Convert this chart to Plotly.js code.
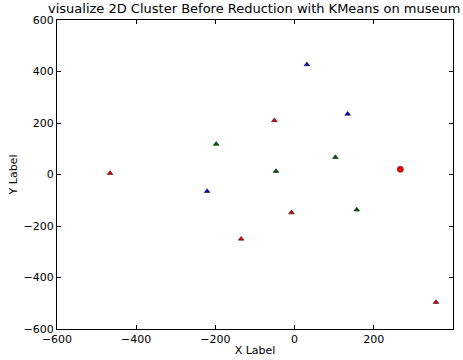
<!DOCTYPE html>
<html>
<head>
<meta charset="utf-8">
<script src="https://cdn.plot.ly/plotly-3.0.1.min.js"></script>
<style>html,body{margin:0;padding:0;background:#fff;}#plot{width:463px;height:360px;}</style>
</head>
<body>
<div id="plot"></div>
<script>
// Data
const redX = [-466, -135, -51, -8, 357];
const redY = [5, -250, 210, -148, -496];
const blueX = [-221, 31, 134];
const blueY = [-65, 427, 235];
const greenX = [-198, -47, 103, 157];
const greenY = [118, 13, 67, -137];
const centerX = [267];
const centerY = [20];
const tickVals = [-600, -400, -200, 0, 200, 400, 600];

const tri = (x, y, c) => ({
  x: x, y: y, type: 'scatter', mode: 'markers',
  marker: {symbol: 'triangle-up', size: 5, color: c, line: {color: '#000', width: 0.5}},
  showlegend: false, hoverinfo: 'none'
});

const data = [
  tri(redX, redY, '#e00000'),
  tri(blueX, blueY, '#0000d0'),
  tri(greenX, greenY, '#006000'),
  {x: centerX, y: centerY, type: 'scatter', mode: 'markers',
   marker: {symbol: 'circle', size: 6, color: '#ff0000', line: {color: '#000', width: 0.5}},
   showlegend: false, hoverinfo: 'none'}
];

const axisCommon = {
  showgrid: false, zeroline: false, showline: true, linecolor: '#000', linewidth: 1,
  mirror: 'ticks', ticks: 'inside', ticklen: 4, tickcolor: '#000', tickwidth: 1,
  tickfont: {family: 'DejaVu Sans', size: 11, color: '#000'}
};

const layout = {
  width: 463, height: 360,
  margin: {l: 57, r: 10, t: 20, b: 31, pad: 0},
  paper_bgcolor: '#fff', plot_bgcolor: '#fff',
  font: {family: 'DejaVu Sans', color: '#000'},
  title: {text: 'visualize 2D Cluster Before Reduction with KMeans on museum',
          font: {family: 'DejaVu Sans', size: 13, color: '#000'},
          x: 0.549, xanchor: 'center', y: 0.99, yanchor: 'top'},
  xaxis: Object.assign({}, axisCommon, {
    range: [-600, 400], tickvals: tickVals.slice(0, 6),
    title: {text: 'X Label', font: {family: 'DejaVu Sans', size: 11, color: '#000'}, standoff: 1}
  }),
  yaxis: Object.assign({}, axisCommon, {
    range: [-600, 600], tickvals: tickVals,
    title: {text: 'Y Label', font: {family: 'DejaVu Sans', size: 11, color: '#000'}, standoff: 3}
  })
};

Plotly.newPlot('plot', data, layout, {staticPlot: true, displayModeBar: false});
</script>
</body>
</html>
